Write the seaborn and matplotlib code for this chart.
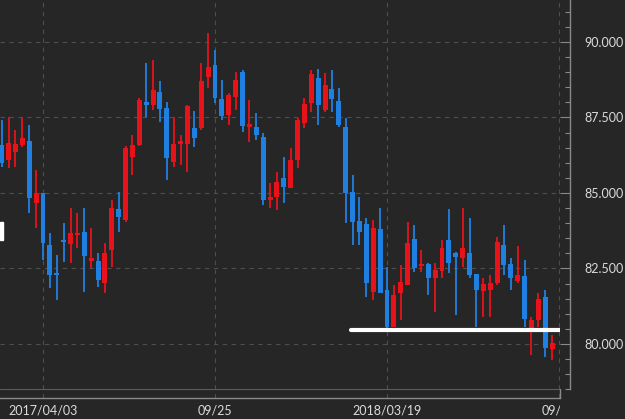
import numpy as np
import pandas as pd
import seaborn as sns
import matplotlib.pyplot as plt
from matplotlib.patches import Rectangle
from matplotlib.transforms import Bbox
from matplotlib.ticker import FixedLocator, MultipleLocator

# weekly candles, 2017/02/20 .. 2018/09/03
weeks = pd.date_range('2017-02-20', periods=81, freq='7D')

opens = [86.59, 86.09, 86.36, 86.59, 86.72, 84.67, 85.00, 83.28, 82.35, 83.44,
         83.31, 83.61, 83.71, 82.75, 82.75, 82.02, 83.11, 84.47, 84.11, 86.19,
         86.59, 88.01, 87.91, 88.35, 87.81, 86.03, 86.62, 86.62, 87.15, 87.15,
         88.84, 89.24, 88.11, 87.58, 88.18, 89.01, 87.19, 87.19, 86.85, 84.77,
         84.87, 85.50, 85.17, 86.09, 87.32, 87.98, 88.81, 87.75, 88.44, 88.05,
         87.19, 85.03, 84.07, 83.97, 81.72, 83.81, 81.79, 80.56, 81.69, 81.95,
         83.48, 82.58, 82.65, 82.19, 82.42, 83.44, 83.01, 82.85, 83.01, 82.32,
         81.76, 81.79, 82.02, 83.28, 82.65, 82.09, 82.25, 80.53, 80.80, 81.56,
         79.83]
highs = [87.42, 87.52, 87.09, 87.52, 87.25, 85.76, 85.00, 83.68, 82.95, 84.01,
         84.50, 84.34, 84.50, 83.84, 83.01, 83.35, 84.77, 85.03, 86.56, 86.92,
         88.15, 89.30, 89.40, 88.71, 88.01, 87.52, 86.92, 87.91, 87.72, 89.30,
         90.30, 89.73, 88.74, 88.31, 89.01, 89.07, 88.08, 87.65, 86.99, 85.33,
         85.70, 86.19, 86.49, 87.48, 88.15, 89.07, 89.11, 88.97, 89.07, 88.48,
         87.48, 85.60, 84.87, 84.17, 84.11, 84.50, 82.55, 81.95, 82.62, 84.04,
         83.94, 83.11, 82.68, 82.68, 83.44, 84.47, 83.05, 84.50, 84.17, 82.32,
         82.19, 82.29, 83.54, 83.94, 82.85, 83.25, 82.78, 80.89, 81.69, 81.79,
         80.30]
lows = [85.86, 85.83, 85.86, 86.52, 84.34, 83.84, 82.78, 81.85, 81.46, 82.72,
        82.68, 83.18, 81.72, 82.52, 81.89, 81.69, 82.55, 83.71, 84.04, 85.60,
        86.56, 87.52, 87.75, 87.35, 85.43, 85.86, 85.93, 85.70, 86.52, 87.09,
        88.48, 87.98, 87.42, 87.25, 87.75, 87.02, 86.69, 86.76, 84.60, 84.50,
        84.44, 84.67, 85.17, 85.83, 87.15, 87.68, 87.25, 87.68, 87.68, 87.19,
        84.01, 83.28, 83.28, 81.56, 81.46, 81.69, 80.53, 80.56, 80.80, 81.95,
        82.38, 82.38, 81.62, 81.06, 82.19, 82.35, 80.96, 82.55, 82.19, 80.56,
        80.89, 80.89, 81.95, 82.29, 81.79, 82.02, 80.56, 79.64, 80.56, 79.57,
        79.47]
closes = [85.99, 86.66, 86.62, 86.82, 84.84, 85.00, 83.35, 82.29, 82.29, 83.38,
          83.68, 83.68, 82.91, 82.85, 82.12, 83.01, 84.50, 84.21, 86.49, 86.59,
          88.08, 87.91, 88.41, 87.78, 86.16, 86.62, 86.72, 87.88, 86.82, 88.71,
          89.17, 88.15, 87.55, 88.25, 88.74, 87.22, 87.28, 86.92, 84.77, 84.87,
          85.37, 85.20, 86.09, 87.42, 87.95, 88.94, 87.91, 88.58, 88.11, 87.25,
          85.00, 84.04, 83.71, 82.02, 83.84, 81.69, 80.56, 81.62, 82.05, 83.35,
          82.52, 82.65, 82.19, 82.45, 83.18, 82.68, 82.88, 83.18, 82.29, 81.79,
          81.99, 82.02, 83.38, 82.62, 82.19, 82.29, 80.83, 80.80, 81.49, 79.87,
          80.03]

tick_dates = ['2017-04-03', '2017-09-25', '2018-03-19', '2018-09-10']
tick_labels = ['2017/04/03', '09/25', '2018/03/19', '09/10']
support_level = 80.45
support_start = '2018-02-12'

bg = '#262626'
up_color = '#e8121b'
down_color = '#1f80e2'
axis_color = '#8a8a8a'
text_color = '#dcdcdc'

sns.set_theme(style='dark', rc={'axes.facecolor': bg, 'figure.facecolor': bg})
plt.rcParams['font.family'] = ['Lato', 'DejaVu Sans']

df = pd.DataFrame({'week': weeks, 'open': opens, 'high': highs,
                   'low': lows, 'close': closes})
df['x'] = np.arange(len(df))
df['up'] = df['close'] >= df['open']

fig = plt.figure(figsize=(6.25, 4.19), dpi=100)
ax = fig.add_axes([0, 1 - 398 / 419, 560 / 625, 398 / 419])

colors = np.where(df['up'], up_color, down_color)
ax.vlines(df['x'], df['low'], df['high'], colors=colors, lw=1.3, zorder=2)
body = (df['close'] - df['open']).abs().clip(lower=0.07)
ax.bar(df['x'], body, bottom=df[['open', 'close']].min(axis=1),
       width=0.72, color=colors, edgecolor='none', linewidth=0, zorder=3)

# support line
week_pos = {d: i for i, d in enumerate(pd.date_range('2017-02-20', periods=90, freq='7D'))}
x_start = week_pos[pd.Timestamp(support_start)] - 0.2
sup = pd.DataFrame({'x': [x_start, 82], 'y': [support_level, support_level]})
sns.lineplot(data=sup, x='x', y='y', color='white', lw=3, ax=ax, zorder=4)

ax.set_xlim(-0.25, 81.15)
ax.set_ylim(78.21, 91.39)
ax.set_xlabel('')
ax.set_ylabel('')

# axes styling
for s in ['top', 'left']:
    ax.spines[s].set_visible(False)
ax.spines['bottom'].set_color(axis_color)
ax.spines['bottom'].set_linewidth(1)
ax.spines['right'].set_position(('outward', 7.2))
ax.spines['right'].set_bounds(78.51, 91.39)
ax.spines['right'].set_color(axis_color)
ax.spines['right'].set_linewidth(1)

ax.yaxis.tick_right()
ax.yaxis.set_major_locator(FixedLocator([80, 82.5, 85, 87.5, 90]))
ax.yaxis.set_minor_locator(MultipleLocator(0.5))
ax.set_yticklabels(['80.000', '82.500', '85.000', '87.500', '90.000'])
ax.tick_params(axis='y', which='major', direction='in', length=7, width=0.8,
               color=axis_color, labelsize=9, labelcolor=text_color, pad=10,
               left=False, right=True)
ax.tick_params(axis='y', which='minor', direction='in', length=3.6, width=0.8,
               color=axis_color, left=False, right=True)

xt = [week_pos[pd.Timestamp(d)] for d in tick_dates]
ax.xaxis.set_major_locator(FixedLocator(xt))
ax.xaxis.set_minor_locator(FixedLocator(np.arange(1, 82, 5)))
ax.set_xticklabels(tick_labels)
ax.tick_params(axis='x', which='major', direction='in', length=7, width=0.8,
               color=axis_color, labelsize=9, labelcolor=text_color, pad=4.5)
ax.tick_params(axis='x', which='minor', direction='in', length=3.6, width=0.8,
               color=axis_color)

ax.grid(True, which='major', axis='both', ls=(0, (4, 4)), color='#4e4e4e', lw=0.8)
ax.grid(False, which='minor')
ax.set_axisbelow(True)

# date band above the x axis
ax.axhline(78.51, color='#5c5c5c', lw=0.8)
ax.plot([1, 1], [0, 9 / 398], transform=ax.transAxes, color=axis_color,
        lw=1, clip_on=False)

# last date label is cut at the plot edge
last = ax.xaxis.get_major_ticks()[-1].label1
last.set_clip_box(Bbox.from_extents(0, 0, 560, 419))
last.set_clip_on(True)

fig.add_artist(Rectangle((0, (419 - 240) / 419), 2.5 / 625, 18 / 419,
                         transform=fig.transFigure, color='white'))

fig.savefig('out.png', dpi=100, facecolor=bg)
